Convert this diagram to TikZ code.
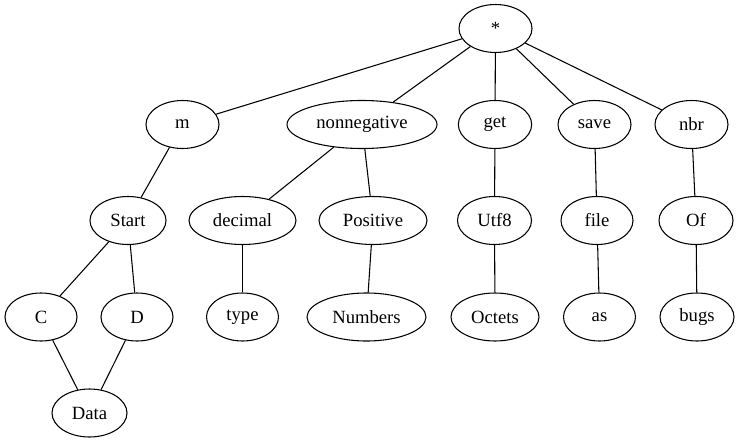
\documentclass[tikz,border=0pt]{standalone}
\usepackage{fontspec}
\setmainfont{Liberation Serif}
\newfontfamily\tms{Liberation Serif}
\usetikzlibrary{shapes.geometric}
\begin{document}
\begin{tikzpicture}[x=0.75pt,y=-0.75pt,
  nd/.style={ellipse,draw,line width=0.8pt,inner sep=0pt,minimum height=36pt,font=\tms\fontsize{14pt}{16pt}\selectfont},
  ed/.style={line width=0.8pt}]
\useasboundingbox (0,0) rectangle (740,443);
\node[nd,minimum width=54.75pt] (star) at (495.5,28.5) {*};
\node[nd,minimum width=54.75pt] (m) at (182.5,124.5) {m};
\node[nd,minimum width=112.5pt] (nonneg) at (362,124.5) {nonnegative};
\node[nd,minimum width=55pt] (get) at (495,124.5) {get};
\node[nd,minimum width=54.75pt] (save) at (594.5,124.5) {save};
\node[nd,minimum width=54.75pt] (nbr) at (691.5,124.5) {nbr};
\node[nd,minimum width=57pt] (start) at (128,220.5) {Start};
\node[nd,minimum width=80.25pt] (decimal) at (242.5,220.5) {decimal};
\node[nd,minimum width=81pt] (positive) at (373,220.5) {Positive};
\node[nd,minimum width=55.5pt] (utf) at (494.5,220.5) {Utf8};
\node[nd,minimum width=54pt] (file) at (597,220.5) {file};
\node[nd,minimum width=55.5pt] (of) at (696,220.5) {Of};
\node[nd,minimum width=54pt] (c) at (41,317) {C};
\node[nd,minimum width=54pt] (d) at (137,317) {D};
\node[nd,minimum width=54pt] (type) at (242.5,317) {type};
\node[nd,minimum width=89.25pt] (numbers) at (366.5,317) {Numbers};
\node[nd,minimum width=66pt] (octets) at (495,317) {Octets};
\node[nd,minimum width=54pt] (as) at (599.5,317) {as};
\node[nd,minimum width=55.5pt] (bugs) at (697,317) {bugs};
\node[nd,minimum width=56.25pt] (data) at (89.5,413) {Data};
\draw[ed] (star) -- (m);
\draw[ed] (star) -- (nonneg);
\draw[ed] (star) -- (get);
\draw[ed] (star) -- (save);
\draw[ed] (star) -- (nbr);
\draw[ed] (m) -- (start);
\draw[ed] (nonneg) -- (decimal);
\draw[ed] (nonneg) -- (positive);
\draw[ed] (get) -- (utf);
\draw[ed] (save) -- (file);
\draw[ed] (nbr) -- (of);
\draw[ed] (start) -- (c);
\draw[ed] (start) -- (d);
\draw[ed] (decimal) -- (type);
\draw[ed] (positive) -- (numbers);
\draw[ed] (utf) -- (octets);
\draw[ed] (file) -- (as);
\draw[ed] (of) -- (bugs);
\draw[ed] (c) -- (data);
\draw[ed] (d) -- (data);
\end{tikzpicture}
\end{document}
